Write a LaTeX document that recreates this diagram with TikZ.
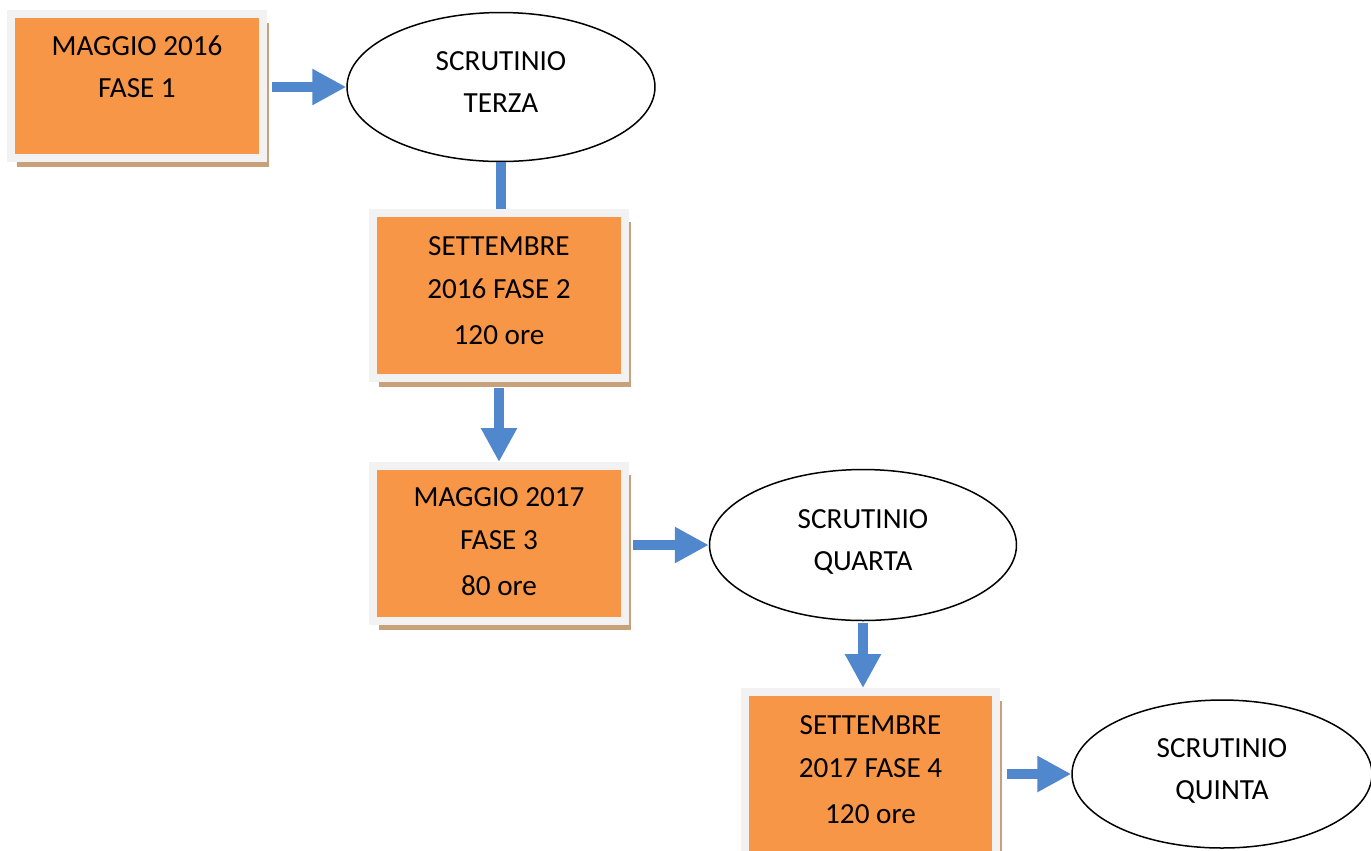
\documentclass[tikz,border=0pt]{standalone}
\usepackage{fontspec}
\setmainfont{Carlito}
\usetikzlibrary{arrows.meta,shapes.geometric,shadows}
\definecolor{arancio}{RGB}{247,150,70}
\definecolor{cornice}{RGB}{242,242,242}
\definecolor{ombra}{RGB}{200,160,122}
\definecolor{blu}{RGB}{80,135,205}
\begin{document}
\begin{tikzpicture}[x=0.02cm,y=-0.02cm,
  fase/.style={rectangle,fill=arancio,draw=cornice,line width=0.16cm,
    drop shadow={shadow xshift=0.12cm,shadow yshift=-0.18cm,fill=ombra,opacity=1},
    minimum width=5.04cm,align=center,inner sep=0pt,text depth=0.2cm,
    font=\fontsize{16.6}{24.2}\selectfont},
  scrutinio/.style={ellipse,draw=black,line width=0.03cm,fill=white,
    align=center,inner sep=0pt,text depth=0.2cm,font=\fontsize{16.6}{23.4}\selectfont},
  freccia/.style={draw=blu,line width=0.21cm,-{Triangle[length=0.68cm,width=0.68cm]}},
  raccordo/.style={draw=blu,line width=0.21cm}]
\useasboundingbox (0,0) rectangle (1371,850);
% fasi
\node (fase1) [fase,minimum height=2.88cm,text depth=0.78cm] at (137,86) {MAGGIO 2016\\FASE 1};
\node (fase2) [fase,minimum height=3.3cm] at (499,295.5) {SETTEMBRE\\2016 FASE 2\\[2pt]120 ore};
\node (fase3) [fase,minimum height=3.1cm,text depth=0.08cm] at (499,543.5) {MAGGIO 2017\\FASE 3\\[2pt]80 ore};
\node (fase4) [fase,minimum height=3.3cm] at (870.5,774.5) {SETTEMBRE\\2017 FASE 4\\[2pt]120 ore};
% scrutini
\node (terza) [scrutinio,minimum width=6.16cm,minimum height=2.98cm] at (501,87) {SCRUTINIO\\TERZA};
\node (quarta) [scrutinio,minimum width=6.14cm,minimum height=3.02cm] at (863,545) {SCRUTINIO\\QUARTA};
\node (quinta) [scrutinio,minimum width=6.0cm,minimum height=2.96cm] at (1222,774) {SCRUTINIO\\QUINTA};
% frecce
\draw [freccia,shorten <=0.1cm] (fase1.east |- terza.west) -- (terza.west);
\draw [raccordo] (terza.south) -- (terza.south |- fase2.north);
\draw [freccia,shorten <=0.12cm] (fase2.south) -- (fase3.north);
\draw [freccia,shorten <=0.08cm] (fase3.east |- quarta.west) -- (quarta.west);
\draw [freccia,shorten <=0.04cm] (quarta.south) -- (quarta.south |- fase4.north);
\draw [freccia,shorten <=0.14cm] (fase4.east |- quinta.west) -- (quinta.west);
\end{tikzpicture}
\end{document}
